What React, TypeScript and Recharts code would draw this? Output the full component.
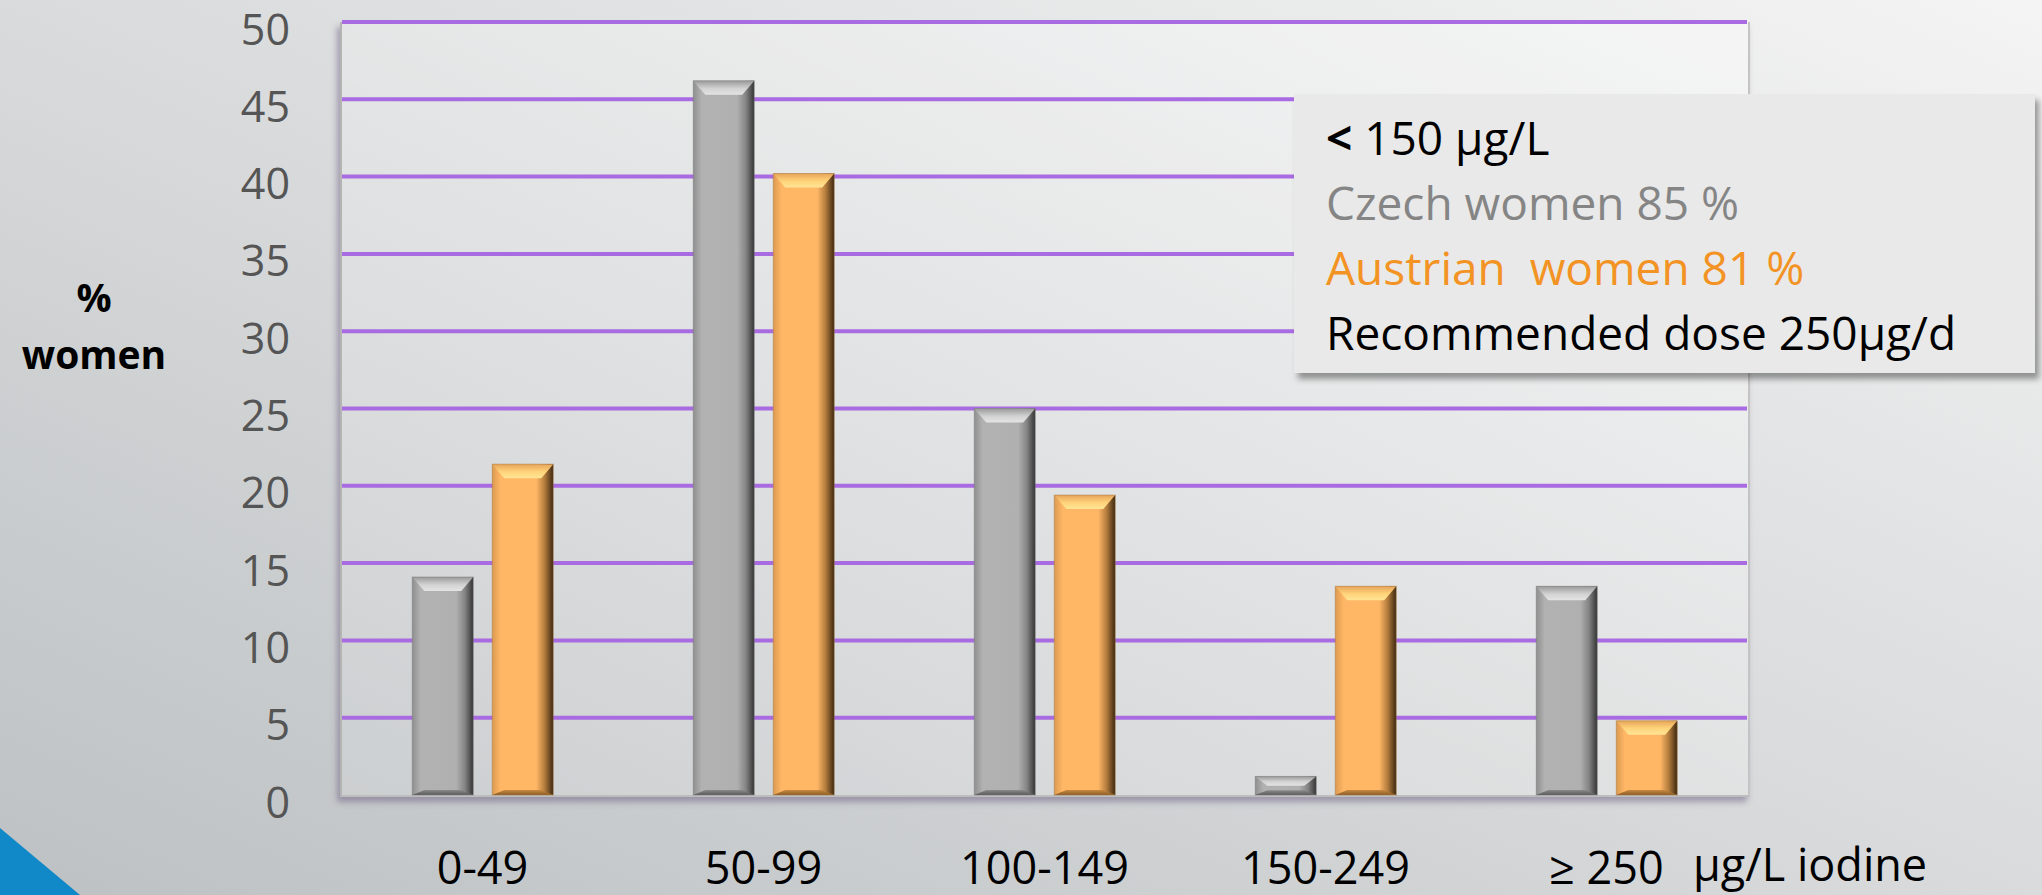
import React from 'react';
import { BarChart, Bar, XAxis, YAxis, CartesianGrid } from 'recharts';

// iodine ranges (µg/L) and share of women in each
const categories = ['0-49', '50-99', '100-149', '150-249', '≥ 250'];
const czechWomen = [14.1, 46.2, 25, 1.2, 13.5];
const austrianWomen = [21.4, 40.2, 19.4, 13.5, 4.8];
const yTicks = [0, 5, 10, 15, 20, 25, 30, 35, 40, 45, 50];
const gridValues = [5, 10, 15, 20, 25, 30, 35, 40, 45, 50];
const legendLines = [
  { text: '150 µg/L', prefix: '< ', color: '#000000' },
  { text: 'Czech women 85 %', prefix: '', color: '#858585' },
  { text: 'Austrian  women 81 %', prefix: '', color: '#F39324' },
  { text: 'Recommended dose 250µg/d', prefix: '', color: '#000000' },
];

const data = categories.map((range, i) => ({
  range,
  czech: czechWomen[i],
  austrian: austrianWomen[i],
}));

const FONT = '"Open Sans", "Noto Sans", sans-serif';

const BevelBar = (props: any) => {
  const { x, y, width: w, height: h, kind } = props;
  if (!h || h <= 0) return null;
  const s = Math.min(12, w / 4);
  const t = Math.min(14, h / 2);
  const b = Math.min(5, h / 4);
  return (
    <g>
      <rect x={x} y={y} width={w} height={h} fill={`url(#${kind}-body)`} />
      <polygon
        points={`${x},${y} ${x + w},${y} ${x + w - s},${y + t} ${x + s},${y + t}`}
        fill={`url(#${kind}-top)`}
      />
      <polygon
        points={`${x},${y + h} ${x + w},${y + h} ${x + w - s},${y + h - b} ${x + s},${y + h - b}`}
        fill={`url(#${kind}-bottom)`}
      />
      <rect x={x} y={y} width={w} height={h} fill="none" stroke={kind === 'czech' ? '#7a7a7a' : '#a87a40'} strokeWidth={1} strokeOpacity={0.5} />
    </g>
  );
};

const YTick = ({ x, y, payload }: any) => (
  <text x={x} y={y + 6} textAnchor="end" dominantBaseline="central" fill="#555555" fontSize={43} fontFamily={FONT}>
    {payload.value}
  </text>
);

const XTick = ({ x, y, payload }: any) => (
  <text x={x} y={y + 71} textAnchor="middle" dominantBaseline="central" fill="#000000" fontSize={45} fontFamily={FONT}>
    {payload.value}
  </text>
);

export default function App() {
  return (
    <div
      style={{
        position: 'absolute',
        left: 0,
        top: 0,
        width: 2042,
        height: 895,
        overflow: 'hidden',
        fontFamily: FONT,
        background: 'linear-gradient(to top right, #bdc1c3 0%, #d6d8d9 45%, #f4f4f4 100%)',
      }}
    >
      {/* plot area panel */}
      <div
        style={{
          position: 'absolute',
          left: 340,
          top: 22,
          width: 1406,
          height: 773,
          background: 'linear-gradient(to top right, rgba(255,255,255,0.12), rgba(255,255,255,0.35))',
          borderLeft: '2px solid #b4b4b4',
          borderRight: '2px solid #c4c4c4',
          borderBottom: '2px solid #bdbdbd',
          boxShadow: '-3px 5px 6px rgba(95,80,120,0.45)',
        }}
      />

      <div style={{ position: 'absolute', left: 0, top: 0 }}>
        <BarChart
          width={2042}
          height={895}
          data={data}
          margin={{ top: 22, right: 295, bottom: 70, left: 282 }}
          barCategoryGap="25%"
          barGap={19}
        >
          <defs>
            <linearGradient id="czech-body" x1="0" y1="0" x2="1" y2="0">
              <stop offset="0" stopColor="#8f8f8f" />
              <stop offset="0.14" stopColor="#b2b2b2" />
              <stop offset="0.72" stopColor="#b0b0b0" />
              <stop offset="0.86" stopColor="#858585" />
              <stop offset="1" stopColor="#343434" />
            </linearGradient>
            <linearGradient id="czech-top" x1="0" y1="0" x2="0" y2="1">
              <stop offset="0" stopColor="#9a9a9a" />
              <stop offset="0.55" stopColor="#d2d2d2" />
              <stop offset="1" stopColor="#e4e4e4" />
            </linearGradient>
            <linearGradient id="czech-bottom" x1="0" y1="0" x2="0" y2="1">
              <stop offset="0" stopColor="#8a8a8a" />
              <stop offset="1" stopColor="#5a5a5a" />
            </linearGradient>
            <linearGradient id="austrian-body" x1="0" y1="0" x2="1" y2="0">
              <stop offset="0" stopColor="#dc9a50" />
              <stop offset="0.14" stopColor="#ffb766" />
              <stop offset="0.72" stopColor="#ffb766" />
              <stop offset="0.86" stopColor="#b27b3c" />
              <stop offset="1" stopColor="#3c2810" />
            </linearGradient>
            <linearGradient id="austrian-top" x1="0" y1="0" x2="0" y2="1">
              <stop offset="0" stopColor="#e7a45a" />
              <stop offset="0.55" stopColor="#ffd47a" />
              <stop offset="1" stopColor="#ffe596" />
            </linearGradient>
            <linearGradient id="austrian-bottom" x1="0" y1="0" x2="0" y2="1">
              <stop offset="0" stopColor="#c98a42" />
              <stop offset="1" stopColor="#8a5d25" />
            </linearGradient>
          </defs>
          <CartesianGrid
            vertical={false}
            horizontalValues={gridValues}
            stroke="#A86BE1"
            strokeWidth={4}
          />
          <XAxis
            dataKey="range"
            height={30}
            axisLine={false}
            tickLine={false}
            tickSize={0}
            tickMargin={0}
            tick={<XTick />}
            interval={0}
          />
          <YAxis
            width={60}
            domain={[0, 50]}
            ticks={yTicks}
            axisLine={false}
            tickLine={false}
            tickSize={0}
            tickMargin={52}
            tick={<YTick />}
            interval={0}
          />
          <Bar dataKey="czech" name="Czech women" isAnimationActive={false} shape={(p: any) => <BevelBar {...p} kind="czech" />} />
          <Bar dataKey="austrian" name="Austrian women" isAnimationActive={false} shape={(p: any) => <BevelBar {...p} kind="austrian" />} />
        </BarChart>
      </div>

      {/* y axis title */}
      <div
        style={{
          position: 'absolute',
          left: 14,
          top: 268,
          width: 160,
          textAlign: 'center',
          fontWeight: 700,
          fontSize: 39,
          lineHeight: '57px',
          color: '#000',
        }}
      >
        %<br />women
      </div>

      {/* x axis unit */}
      <div
        style={{
          position: 'absolute',
          left: 1693,
          top: 834,
          fontSize: 45,
          lineHeight: '60px',
          color: '#000',
          whiteSpace: 'pre',
        }}
      >
        µg/L iodine
      </div>

      {/* annotation box */}
      <div
        style={{
          position: 'absolute',
          left: 1294,
          top: 94,
          width: 741,
          height: 279,
          boxSizing: 'border-box',
          padding: '11px 0 0 32px',
          background: '#e9e9e9',
          boxShadow: '4px 6px 6px rgba(0,0,0,0.38)',
        }}
      >
        {legendLines.map((l) => (
          <div key={l.text} style={{ color: l.color, fontSize: 46, lineHeight: '65px', whiteSpace: 'pre' }}>
            {l.prefix && <span style={{ fontWeight: 700 }}>{l.prefix}</span>}
            {l.text}
          </div>
        ))}
      </div>

      {/* corner accent */}
      <svg style={{ position: 'absolute', left: 0, top: 0 }} width={2042} height={895}>
        <polygon points="0,828 80,895 0,895" fill="#1188C8" />
      </svg>
    </div>
  );
}
